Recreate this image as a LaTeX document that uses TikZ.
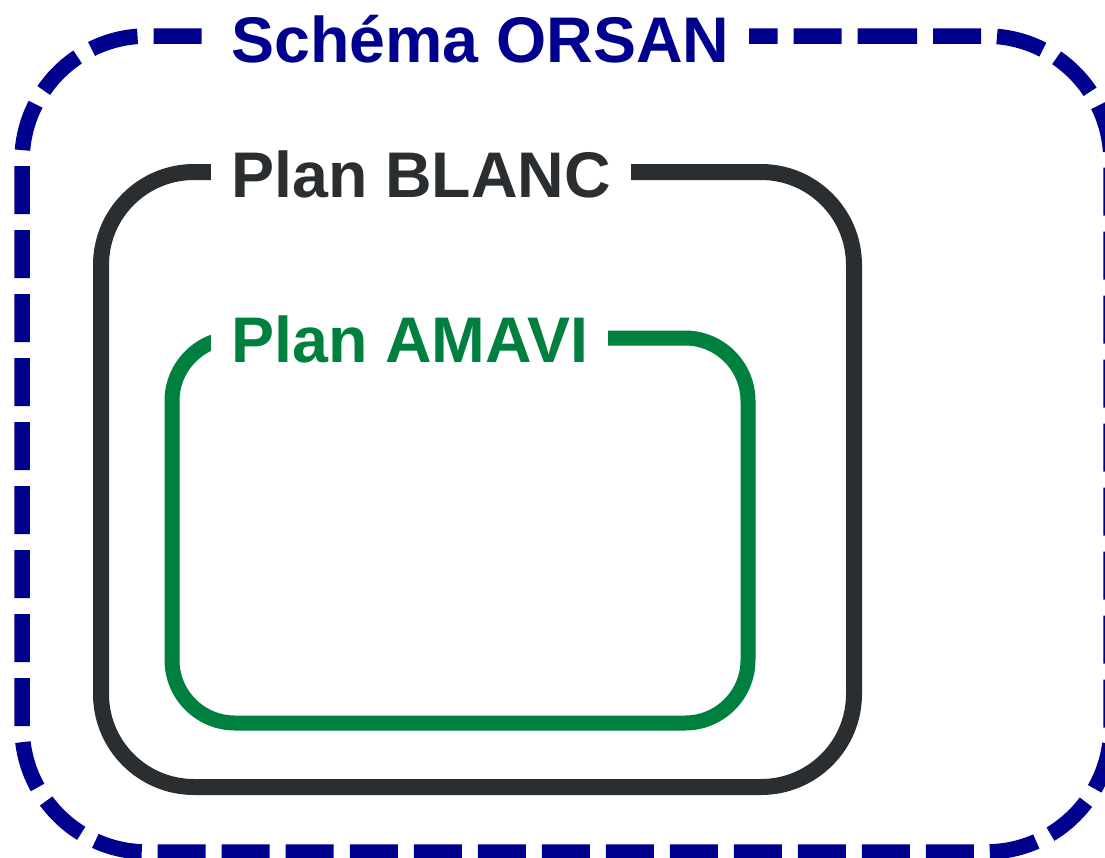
\documentclass[tikz,border=0pt]{standalone}
\usepackage{fontspec}
\setmainfont{Liberation Sans}
\definecolor{orsanblue}{HTML}{00008F}
\definecolor{blancgray}{HTML}{2A2E31}
\definecolor{amavigreen}{HTML}{00803F}
\tikzset{
  orsanbox/.style={draw=orsanblue, line width=15.5pt, dash pattern=on 48pt off 16pt, rounded corners=125pt},
  blancbox/.style={draw=blancgray, line width=16pt, rounded corners=93pt},
  amavibox/.style={draw=amavigreen, line width=15pt, rounded corners=63pt},
  boxlabel/.style={fill=white, anchor=base west, inner xsep=20pt, inner ysep=4pt,
    font=\bfseries\fontsize{64.5}{70}\selectfont},
}
\begin{document}
\begin{tikzpicture}[x=1pt,y=-1pt]
\useasboundingbox (0,0) rectangle (1105,857);
\clip (0,0) rectangle (1105,857);
\fill[white] (0,0) rectangle (1105,857);
% outer dashed frame
\draw[orsanbox] (744,36) -- (1111,36) -- (1111,852) -- (22,852) -- (22,36) -- cycle;
% Plan BLANC frame
\draw[blancbox] (101,172) rectangle (854,787);
% Plan AMAVI frame
\draw[amavibox] (172,338) rectangle (748,723);
% labels
\node[boxlabel, text=orsanblue] (orsan) at (211,62) {Schéma ORSAN};
\node[boxlabel, text=blancgray] (blanc) at (211,197) {Plan BLANC};
\node[boxlabel, text=amavigreen] (amavi) at (211,362) {Plan AMAVI};
\end{tikzpicture}
\end{document}
